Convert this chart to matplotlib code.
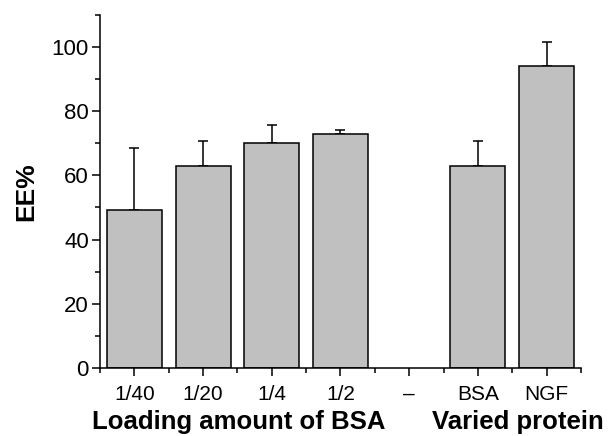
import numpy as np
import matplotlib.pyplot as plt
from matplotlib.ticker import MultipleLocator, FixedLocator

plt.rcParams['font.family'] = ['Liberation Sans', 'DejaVu Sans']

# data
labels = ['1/40', '1/20', '1/4', '1/2', '–', 'BSA', 'NGF']
ee = [49.2, 62.8, 70.0, 72.9, np.nan, 62.8, 94.0]
err_up = [19.3, 8.0, 5.8, 1.3, np.nan, 8.0, 7.4]
group_labels = ['Loading amount of BSA', 'Varied protein']

fig = plt.figure(figsize=(6.08, 4.36), dpi=100)
ax = fig.add_axes([0.1645, 0.156, 0.791, 0.81])

x = np.arange(len(labels))
mask = ~np.isnan(ee)
xs = x[mask]
vals = np.array(ee)[mask]
errs = np.array(err_up)[mask]

ax.bar(xs, vals, width=0.8, color='#c0c0c0', edgecolor='black', linewidth=1.1, zorder=2)
ax.errorbar(xs, vals, yerr=[np.zeros_like(errs), errs], fmt='none',
            ecolor='black', elinewidth=1.1, capsize=3.5, capthick=1.1, zorder=1)

ax.set_xlim(-0.5, 6.5)
ax.set_ylim(0, 110)
ax.set_xticks(x)
ax.set_xticklabels(labels, fontsize=15)
ax.xaxis.set_minor_locator(FixedLocator(np.arange(-0.5, 7, 1)))
ax.set_yticks(np.arange(0, 101, 20))
ax.yaxis.set_minor_locator(MultipleLocator(10))
ax.tick_params(axis='y', labelsize=16)
ax.tick_params(which='major', direction='out', length=6, width=1.1, pad=2)
ax.tick_params(axis='x', which='major', pad=6)
ax.tick_params(which='minor', direction='out', length=3.5, width=1.1)

for s in ['top', 'right']:
    ax.spines[s].set_visible(False)
for s in ['left', 'bottom']:
    ax.spines[s].set_linewidth(1.1)

ax.set_ylabel('EE%', fontsize=19, fontweight='bold', labelpad=10)

trans = ax.get_xaxis_transform()
ax.text(1.52, -0.153, group_labels[0], transform=trans, ha='center', va='center',
        fontsize=18.5, fontweight='bold')
ax.text(5.58, -0.153, group_labels[1], transform=trans, ha='center', va='center',
        fontsize=18.5, fontweight='bold', clip_on=False)

fig.savefig('out.png', dpi=100)
